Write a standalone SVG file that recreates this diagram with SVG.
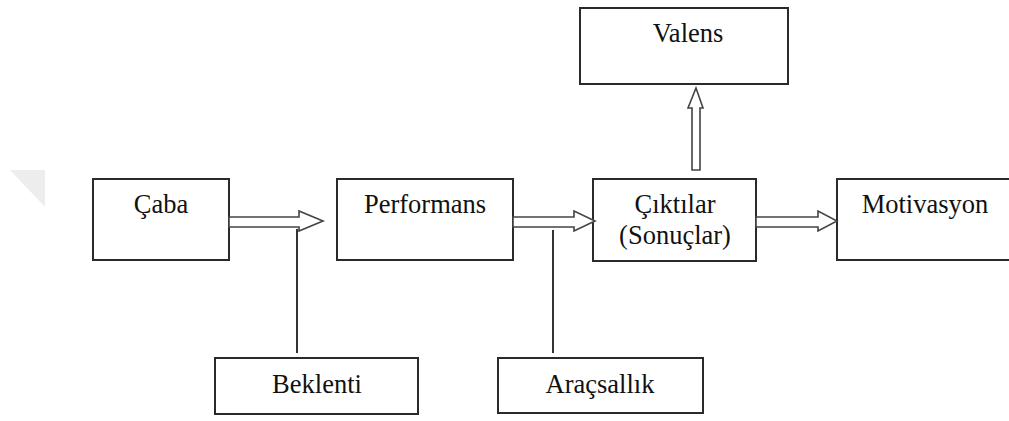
<svg xmlns="http://www.w3.org/2000/svg" width="1009" height="421" viewBox="0 0 1009 421">
<defs>
<style>
.box{fill:#fff;stroke:#2a2a2a;stroke-width:2}
.lbl{font-family:"Liberation Serif","Times New Roman",serif;font-size:26.5px;fill:#111;text-anchor:middle}
.arr{fill:#fff;stroke:#444;stroke-width:1.6;stroke-linejoin:miter}
.ln{stroke:#333;stroke-width:2;fill:none}
</style>
</defs>
<rect width="1009" height="421" fill="#fff"/>
<polygon points="10,170 45,170 45,207" fill="#ededed"/>
<g id="caba"><rect class="box" x="93" y="179" width="136" height="81"/><text class="lbl" x="161" y="213">Çaba</text></g>
<g id="performans"><rect class="box" x="337" y="179" width="176" height="81"/><text class="lbl" x="425" y="213">Performans</text></g>
<g id="ciktilar"><rect class="box" x="593" y="179" width="163" height="82"/><text class="lbl" x="675" y="213">Çıktılar</text><text class="lbl" x="675" y="244">(Sonuçlar)</text></g>
<g id="motivasyon"><rect class="box" x="837" y="179" width="200" height="81"/><text class="lbl" x="925" y="213">Motivasyon</text></g>
<g id="valens"><rect class="box" x="580" y="8" width="208" height="76"/><text class="lbl" x="688" y="42">Valens</text></g>
<g id="beklenti"><rect class="box" x="215" y="358" width="203" height="56"/><text class="lbl" x="317" y="393">Beklenti</text></g>
<g id="aracsallik"><rect class="box" x="498" y="358" width="205" height="55"/><text class="lbl" x="600" y="393">Araçsallık</text></g>
<g id="connectors">
<polygon class="arr" points="229,217 299,217 299,211 323,221 299,231 299,227 229,227"/>
<polygon class="arr" points="513,217 574,217 574,211 595,221 574,231 574,227 513,227"/>
<polygon class="arr" points="756,217 818,217 818,211 837,221 818,231 818,227 756,227"/>
<polygon class="arr" points="692,170 692,108 688,108 696,88 703,108 700,108 700,170"/>
<line class="ln" x1="297" y1="229" x2="297" y2="353"/>
<line class="ln" x1="553" y1="230" x2="553" y2="353"/>
</g>
</svg>
